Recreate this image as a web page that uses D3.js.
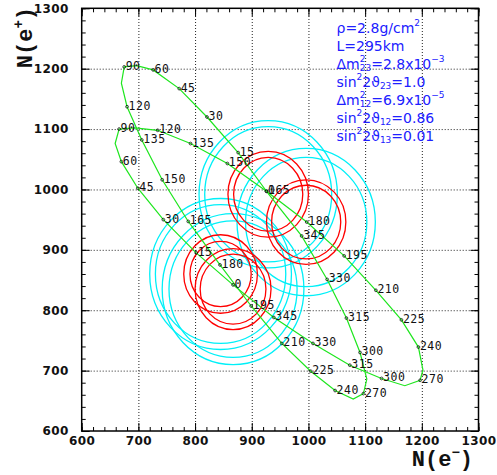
<!DOCTYPE html>
<html>
<head>
<meta charset="utf-8">
<script src="https://cdn.jsdelivr.net/npm/d3@7"></script>
<style>
  body { margin: 0; background: #fff; }
</style>
</head>
<body>
<div id="chart"></div>
<script>
// Data
var deltas = [0, 15, 30, 45, 60, 75, 90, 105, 120, 135, 150, 165, 180, 195, 210, 225, 240, 255, 270, 285, 300, 315, 330, 345];
var labelledDeltas = [0, 15, 30, 45, 60, 90, 120, 135, 150, 165, 180, 195, 210, 225, 240, 270, 300, 315, 330, 345];

// upper / longer ellipse
var ellipseAx = [926, 876, 821, 772, 726, 697, 675, 670, 680, 706, 742, 788, 844, 899, 953, 1004, 1047, 1079, 1097, 1103, 1091, 1067, 1033, 988];
var ellipseAy = [997, 1061, 1120, 1167, 1198, 1205, 1203, 1176, 1137, 1082, 1016, 947, 875, 807, 745, 699, 667, 653, 662, 686, 730, 787, 851, 923];
// lower / wider ellipse
var ellipseBx = [867, 802, 744, 699, 670, 659, 666, 694, 734, 792, 857, 926, 997, 1063, 1119, 1164, 1194, 1202, 1197, 1170, 1129, 1073, 1008, 939];
var ellipseBy = [842, 895, 950, 1002, 1046, 1076, 1100, 1102, 1098, 1076, 1043, 997, 946, 890, 833, 784, 739, 701, 684, 675, 687, 709, 745, 788];

// error contours (centres and radii, in events)
var circleX = [929, 996, 845, 867];
var circleY = [992, 946, 860, 835];
var redOuter = [71, 70, 65, 67];
var redInner = [61, 61, 54, 58];
var cyanOuter = [122, 122, 125, 125];
var cyanInner = [112, 107, 115, 113];

var majorTicks = [600, 700, 800, 900, 1000, 1100, 1200, 1300];
var gridTicks = [700, 800, 900, 1000, 1100, 1200];
var minorTicks = d3.range(600, 1301, 20);

var paramLines = [
  "ρ=2.8g/cm^{2}",
  "L=295km",
  "Δm^{2}_{23}=2.8x10^{−3}",
  "sin^{2}2ϑ_{23}=1.0",
  "Δm^{2}_{12}=6.9x10^{−5}",
  "sin^{2}2ϑ_{12}=0.86",
  "sin^{2}2ϑ_{13}=0.01"
];

//Set up chart area
var svgWidth = 497;
var svgHeight = 475;
var margin = { top: 8.3, right: 18.5, bottom: 44, left: 81.7 };
var width = svgWidth - margin.left - margin.right;
var height = svgHeight - margin.top - margin.bottom;

var svg = d3.select("#chart")
  .append("svg")
  .attr("width", svgWidth)
  .attr("height", svgHeight);

var chartGroup = svg.append("g")
  .attr("transform", `translate(${margin.left}, ${margin.top})`);

var x = d3.scaleLinear().domain([600, 1300]).range([0, width]);
var y = d3.scaleLinear().domain([600, 1300]).range([height, 0]);

// grid
chartGroup.append("g")
  .attr("transform", `translate(0, ${height})`)
  .call(d3.axisBottom(x).tickValues(gridTicks).tickSize(-height).tickFormat(""))
  .call(g => g.select(".domain").remove())
  .selectAll("line").attr("stroke", "#222").attr("stroke-dasharray", "1,2");

chartGroup.append("g")
  .call(d3.axisLeft(y).tickValues(gridTicks).tickSize(-width).tickFormat(""))
  .call(g => g.select(".domain").remove())
  .selectAll("line").attr("stroke", "#222").attr("stroke-dasharray", "1,2");

// error contours
var contours = chartGroup.append("g").attr("fill", "none");
function drawCircles(radii, colour) {
  contours.append("g").selectAll("ellipse")
    .data(radii)
    .enter()
    .append("ellipse")
    .attr("cx", (r, i) => x(circleX[i]))
    .attr("cy", (r, i) => y(circleY[i]))
    .attr("rx", (r, i) => x(circleX[i] + r) - x(circleX[i]))
    .attr("ry", (r, i) => y(circleY[i]) - y(circleY[i] + r))
    .attr("stroke", colour)
    .attr("stroke-width", 1.3);
}
drawCircles(cyanOuter, "#00f0f8");
drawCircles(cyanInner, "#00f0f8");
drawCircles(redOuter, "#ff0000");
drawCircles(redInner, "#ff0000");

// ellipses
var line = d3.line()
  .x(d => x(d[0]))
  .y(d => y(d[1]))
  .curve(d3.curveLinearClosed);

var ellipses = [
  deltas.map((d, i) => [ellipseAx[i], ellipseAy[i]]),
  deltas.map((d, i) => [ellipseBx[i], ellipseBy[i]])
];

chartGroup.selectAll(".ellipse")
  .data(ellipses)
  .enter()
  .append("path")
  .attr("class", "ellipse")
  .attr("d", line)
  .attr("fill", "none")
  .attr("stroke", "#1ee61e")
  .attr("stroke-width", 1.2);

// labelled points
var points = [];
ellipses.forEach(function (pts) {
  labelledDeltas.forEach(function (d) {
    var p = pts[d / 15];
    points.push({ delta: d, x: p[0], y: p[1] });
  });
});

var pointGroup = chartGroup.append("g");
pointGroup.selectAll("circle")
  .data(points)
  .enter()
  .append("circle")
  .attr("cx", d => x(d.x))
  .attr("cy", d => y(d.y))
  .attr("r", 1.4)
  .attr("fill", "none")
  .attr("stroke", "#000")
  .attr("stroke-width", 0.7);

pointGroup.selectAll("text")
  .data(points)
  .enter()
  .append("text")
  .attr("x", d => x(d.x) + 1.5)
  .attr("y", d => y(d.y) + 3)
  .attr("font-family", "DejaVu Sans Mono")
  .attr("font-size", 11.5)
  .attr("letter-spacing", 0.5)
  .attr("fill", "#111")
  .text(d => d.delta);

// axes: ticks inward on all four sides
function styleAxis(g) {
  g.select(".domain").remove();
  g.selectAll("line").attr("stroke", "#000");
}
var sides = [
  { axis: d3.axisBottom(x), t: `translate(0, ${height})` },
  { axis: d3.axisTop(x), t: "translate(0, 0)" },
  { axis: d3.axisLeft(y), t: "translate(0, 0)" },
  { axis: d3.axisRight(y), t: `translate(${width}, 0)` }
];
sides.forEach(function (s) {
  chartGroup.append("g").attr("transform", s.t)
    .call(s.axis.tickValues(minorTicks).tickSize(-4).tickFormat(""))
    .call(styleAxis);
  chartGroup.append("g").attr("transform", s.t)
    .call(s.axis.tickValues(majorTicks).tickSize(-8).tickFormat(""))
    .call(styleAxis);
});

// tick labels
chartGroup.append("g")
  .attr("transform", `translate(0, ${height})`)
  .call(d3.axisBottom(x).tickValues(majorTicks).tickSize(0).tickPadding(5.5).tickFormat(d3.format("d")))
  .call(g => g.select(".domain").remove())
  .selectAll("text")
  .attr("font-family", "DejaVu Sans")
  .attr("font-weight", "bold")
  .attr("font-size", 12)
  .attr("letter-spacing", 0.4)
  .attr("fill", "#111");

chartGroup.append("g")
  .call(d3.axisLeft(y).tickValues(majorTicks).tickSize(0).tickPadding(13).tickFormat(d3.format("d")))
  .call(g => g.select(".domain").remove())
  .selectAll("text")
  .attr("font-family", "DejaVu Sans")
  .attr("font-weight", "bold")
  .attr("font-size", 12)
  .attr("letter-spacing", 0.4)
  .attr("fill", "#111");

// frame
chartGroup.append("rect")
  .attr("width", width)
  .attr("height", height)
  .attr("fill", "none")
  .attr("stroke", "#000")
  .attr("stroke-width", 1.5);

// rich text with ^{..} and _{..}
function richText(textSel, str, supSize, supShift, subShift) {
  var tokens = str.match(/\^\{[^}]*\}|_\{[^}]*\}|[^\^_]+/g);
  var offset = 0;
  var lastSup = null;
  tokens.forEach(function (tok) {
    var ts;
    if (tok[0] === "^") {
      ts = textSel.append("tspan").attr("font-size", supSize)
        .attr("dy", supShift - offset).text(tok.slice(2, -1));
      offset = supShift;
      lastSup = ts;
    } else if (tok[0] === "_") {
      ts = textSel.append("tspan").attr("font-size", supSize)
        .attr("dy", subShift - offset).text(tok.slice(2, -1));
      if (lastSup) ts.attr("dx", -lastSup.node().getComputedTextLength());
      offset = subShift;
      lastSup = null;
    } else {
      ts = textSel.append("tspan").attr("dy", -offset).text(tok);
      offset = 0;
      lastSup = null;
    }
  });
}

// parameter box
var params = svg.append("g")
  .attr("font-family", "DejaVu Sans")
  .attr("font-size", 14)
  .attr("fill", "#2020ff");
paramLines.forEach(function (s, i) {
  var t = params.append("text")
    .attr("x", 336.5)
    .attr("y", 32.5 + i * 18);
  richText(t, s, 9, -6.5, 2.5);
});

// axis titles
var xTitle = svg.append("text")
  .attr("x", 473)
  .attr("y", 466)
  .attr("text-anchor", "end")
  .attr("font-family", "Liberation Mono")
  .attr("font-weight", "bold")
  .attr("font-size", 22)
  .attr("fill", "#111");
richText(xTitle, "N(e^{−})", 14, -9, 0);

var yTitle = svg.append("text")
  .attr("transform", "translate(32, 7) rotate(-90)")
  .attr("text-anchor", "end")
  .attr("font-family", "Liberation Mono")
  .attr("font-weight", "bold")
  .attr("font-size", 22)
  .attr("fill", "#111");
richText(yTitle, "N(e^{+})", 14, -9, 0);
</script>
</body>
</html>
